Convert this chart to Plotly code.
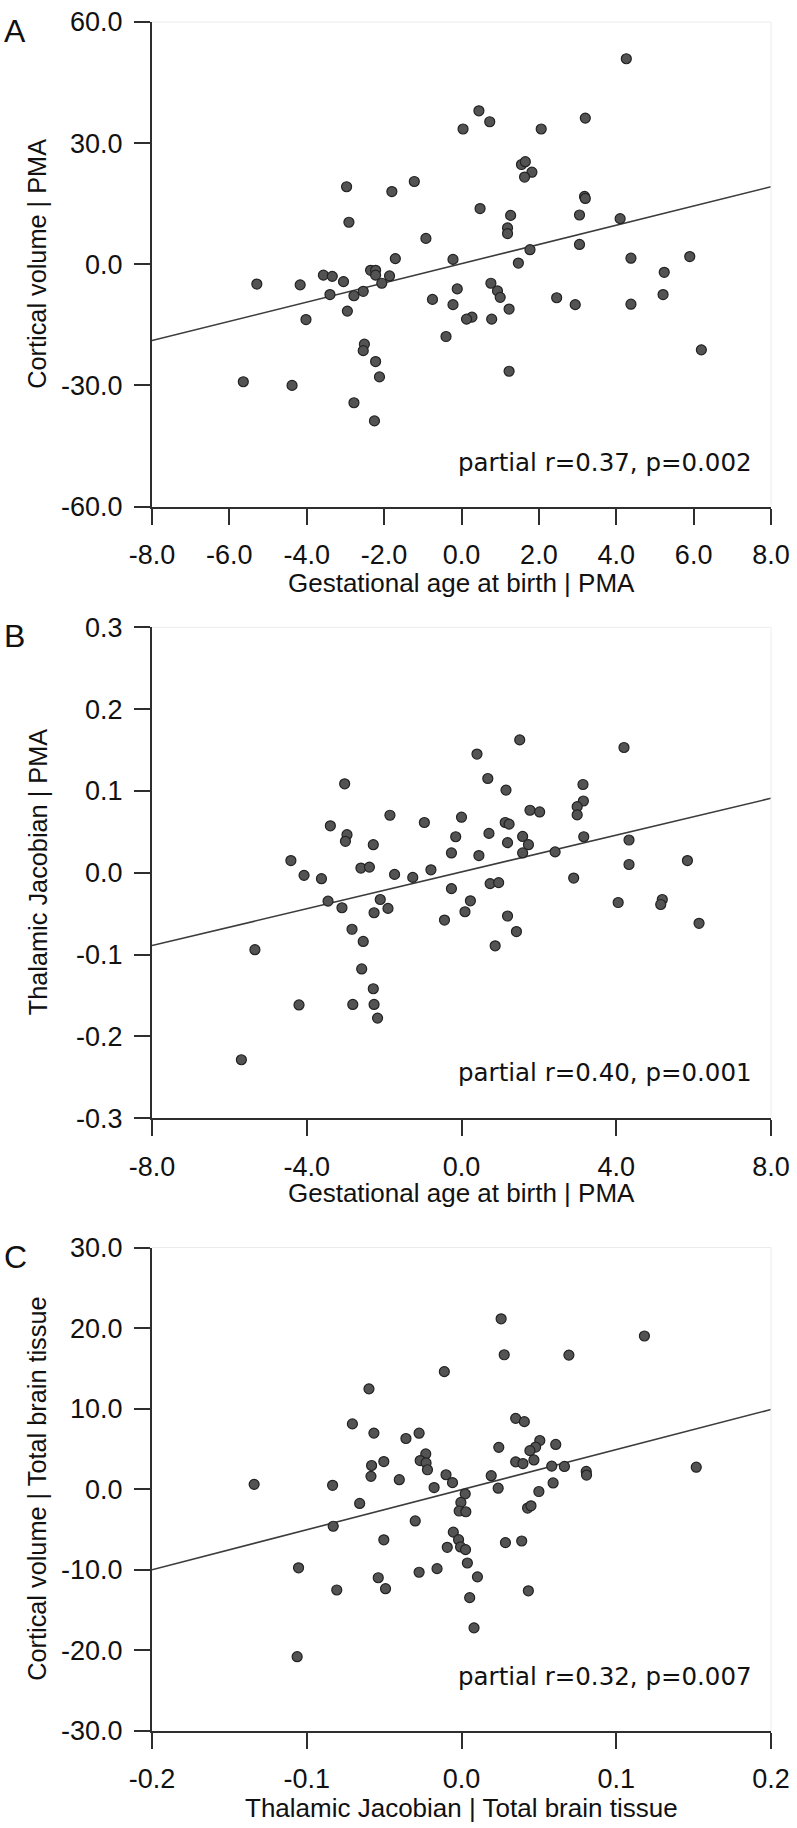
import plotly.graph_objects as go

# ---------------- Panel A: Cortical volume | PMA vs GA at birth | PMA
a_x = [-2.97, -1.80, -2.91, -1.71, -5.29, -4.17, -3.57, -3.34, -3.05, -3.40, -2.78, -2.54,
       -2.35, -2.22, -2.22, -2.06, -1.86, -2.95, -4.02, -2.51, -2.54, -2.22, -2.12, -5.64,
       -4.38, -2.78, -2.25,
       4.26, 0.45, 0.73, 0.04, 2.06, 3.20, 1.55, 1.65, 1.82, 1.63, -1.22, 3.18, 3.20, 0.48,
       1.27, 1.19, 1.19, 3.05, 4.10, 3.05, -0.92, -0.22, 1.77, 1.47, 4.38, 5.90, 5.24, 5.21,
       4.38, 2.94, 2.46, 0.76, 0.93, 1.00, 1.23, -0.11, -0.75, -0.22, 0.27, 0.13, 0.78, -0.40,
       6.20, 1.23]
a_y = [19.2, 18.0, 10.4, 1.4, -4.9, -5.1, -2.7, -3.0, -4.3, -7.5, -7.8, -6.7,
       -1.5, -1.5, -2.7, -4.7, -2.9, -11.6, -13.7, -19.8, -21.4, -24.1, -27.9, -29.1,
       -30.0, -34.3, -38.8,
       50.9, 38.0, 35.3, 33.5, 33.5, 36.2, 24.7, 25.4, 22.8, 21.6, 20.5, 16.8, 16.3, 13.8,
       12.1, 9.0, 7.6, 12.2, 11.3, 4.9, 6.4, 1.2, 3.6, 0.3, 1.5, 1.9, -2.0, -7.5,
       -9.9, -10.0, -8.3, -4.7, -6.6, -8.2, -11.1, -6.1, -8.7, -10.0, -13.1, -13.6, -13.6, -17.9,
       -21.2, -26.5]
a_fit_x = [-8.0, 8.0]
a_fit_y = [-18.9, 19.2]
a_xticks = [-8, -6, -4, -2, 0, 2, 4, 6, 8]
a_xlabels = ["-8.0", "-6.0", "-4.0", "-2.0", "0.0", "2.0", "4.0", "6.0", "8.0"]
a_yticks = [-60, -30, 0, 30, 60]
a_ylabels = ["-60.0", "-30.0", "0.0", "30.0", "60.0"]

# ---------------- Panel B: Thalamic Jacobian | PMA vs GA at birth | PMA
b_x = [-3.02, -1.85, -3.39, -2.96, -3.00, -2.28, -4.41, -4.07, -3.62, -2.60, -2.38, -1.73,
       -3.45, -3.09, -2.10, -2.26, -1.90, -2.83, -2.54, -5.34, -2.58, -2.28, -4.20, -2.81,
       -2.26, -5.69, -2.17,
       1.505, 4.20, 0.40, 0.68, 1.15, 3.14, 3.15, 2.99, 2.99, 1.77, 2.02, -0.96, 0.00, 1.13,
       1.23, -0.15, 0.71, 1.19, 1.58, 1.73, 1.58, 3.16, 2.42, -0.26, 0.45, 4.33, 4.33, 5.84,
       -1.26, -0.79, -0.26, 0.74, 0.96, 2.90, 0.23, 0.09, -0.44, 1.19, 1.42, 0.87, 4.05, 5.19,
       5.15, 6.14]
b_y = [0.1087, 0.0703, 0.0574, 0.0465, 0.0384, 0.0343, 0.0149, -0.0032, -0.0073, 0.0057,
       0.0069, -0.0020, -0.0347, -0.0428, -0.0327, -0.0489, -0.0436, -0.0691, -0.0840,
       -0.0941, -0.1176, -0.1418, -0.1616, -0.1610, -0.1610, -0.2286, -0.1777,
       0.1624, 0.1531, 0.1451, 0.1152, 0.1010, 0.1079, 0.0877, 0.0808, 0.0707, 0.0764, 0.0743,
       0.0614, 0.0679, 0.0614, 0.0594, 0.0440, 0.0481, 0.0368, 0.0444, 0.0343, 0.0242, 0.0440,
       0.0255, 0.0242, 0.0210, 0.0400, 0.0101, 0.0149, -0.0057, 0.0036, -0.0194, -0.0133,
       -0.0121, -0.0065, -0.0343, -0.0477, -0.0578, -0.0529, -0.0719, -0.0893, -0.0364,
       -0.0327, -0.0388, -0.0618]
b_fit_x = [-8.0, 8.0]
b_fit_y = [-0.089, 0.091]
b_xticks = [-8, -4, 0, 4, 8]
b_xlabels = ["-8.0", "-4.0", "0.0", "4.0", "8.0"]
b_yticks = [-0.3, -0.2, -0.1, 0.0, 0.1, 0.2, 0.3]
b_ylabels = ["-0.3", "-0.2", "-0.1", "0.0", "0.1", "0.2", "0.3"]

# ---------------- Panel C: Cortical volume | TBT vs Thalamic Jacobian | TBT
c_x = [-0.0598, -0.0705, -0.0566, -0.0502, -0.0581, -0.0585, -0.1340, -0.0833, -0.0658,
       -0.0829, -0.0502, -0.1053, -0.0806, -0.0538, -0.0491, -0.1062,
       0.0256, 0.1182, 0.0276, 0.0694, -0.0111, 0.0350, 0.0406, -0.0274, -0.0359, 0.0506,
       0.0609, 0.0479, 0.0442, 0.0241, -0.0231, -0.0267, -0.0229, -0.0220, 0.0350, 0.0397,
       0.0468, 0.0583, 0.0665, 0.0806, 0.0808, 0.1517, -0.0402, -0.0100, -0.0058, 0.0192,
       -0.0177, 0.0237, 0.0592, 0.0500, 0.0024, -0.0004, -0.0015, 0.0028, 0.0427, 0.0449,
       -0.0299, -0.0053, -0.0019, -0.0006, 0.0026, -0.0092, 0.0284, 0.0389, 0.0038, -0.0158,
       -0.0274, 0.0103, 0.0053, 0.0432, 0.0081]
c_y = [12.46, 8.11, 6.97, 3.44, 2.95, 1.60, 0.61, 0.49, -1.76, -4.59, -6.27, -9.75, -12.5,
       -10.98, -12.34, -20.78,
       21.15, 19.02, 16.69, 16.65, 14.6, 8.8, 8.39, 6.96, 6.30, 6.05, 5.56, 5.24, 4.79, 5.20,
       4.38, 3.56, 3.27, 2.42, 3.40, 3.19, 3.64, 2.87, 2.83, 2.21, 1.76, 2.74, 1.19, 1.80,
       0.82, 1.68, 0.21, 0.13, 0.78, -0.28, -0.57, -1.63, -2.70, -2.79, -2.33, -2.05, -3.93,
       -5.32, -6.26, -7.16, -7.49, -7.2, -6.62, -6.42, -9.15, -9.85, -10.3, -10.87, -13.45,
       -12.6, -17.2]
c_fit_x = [-0.2, 0.2]
c_fit_y = [-10.0, 9.9]
c_xticks = [-0.2, -0.1, 0.0, 0.1, 0.2]
c_xlabels = ["-0.2", "-0.1", "0.0", "0.1", "0.2"]
c_yticks = [-30, -20, -10, 0, 10, 20, 30]
c_ylabels = ["-30.0", "-20.0", "-10.0", "0.0", "10.0", "20.0", "30.0"]

panels = [
    dict(x=a_x, y=a_y, fx=a_fit_x, fy=a_fit_y, xr=[-8, 8], yr=[-60, 60],
         xtv=a_xticks, xtt=a_xlabels, ytv=a_yticks, ytt=a_ylabels,
         xt="Gestational age at birth | PMA", yt="Cortical volume | PMA",
         stat="partial r=0.37, p=0.002", letter="A", dom=[0.7165, 1.0], sy=44, ty=-76),
    dict(x=b_x, y=b_y, fx=b_fit_x, fy=b_fit_y, xr=[-8, 8], yr=[-0.3, 0.3],
         xtv=b_xticks, xtt=b_xlabels, ytv=b_yticks, ytt=b_ylabels,
         xt="Gestational age at birth | PMA", yt="Thalamic Jacobian | PMA",
         stat="partial r=0.40, p=0.001", letter="B", dom=[0.3586, 0.6458], sy=46, ty=-75),
    dict(x=c_x, y=c_y, fx=c_fit_x, fy=c_fit_y, xr=[-0.2, 0.2], yr=[-30, 30],
         xtv=c_xticks, xtt=c_xlabels, ytv=c_yticks, ytt=c_ylabels,
         xt="Thalamic Jacobian | Total brain tissue", yt="Cortical volume | Total brain tissue",
         stat="partial r=0.32, p=0.007", letter="C", dom=[0.0, 0.2829], sy=55, ty=-77),
]

AX = "#2e2e2e"
TICKFONT = dict(family="Liberation Sans, Arial, sans-serif", size=27, color="#111111")
TITLEFONT = "Liberation Sans, Arial, sans-serif"

fig = go.Figure()
annotations = []
shapes = []
for i, p in enumerate(panels, start=1):
    xa = "x" if i == 1 else f"x{i}"
    ya = "y" if i == 1 else f"y{i}"
    fig.add_trace(go.Scatter(x=p["fx"], y=p["fy"], mode="lines", xaxis=xa, yaxis=ya,
                             line=dict(color="#3c3c3c", width=1.6), showlegend=False,
                             hoverinfo="skip"))
    fig.add_trace(go.Scatter(x=p["x"], y=p["y"], mode="markers", xaxis=xa, yaxis=ya,
                             marker=dict(size=10, color="#535353",
                                         line=dict(color="#222222", width=1.2)),
                             showlegend=False))
    axis_common = dict(showline=True, linecolor=AX, linewidth=2, ticks="outside",
                       ticklen=16, tickwidth=2, tickcolor=AX, showgrid=False,
                       zeroline=False, tickfont=TICKFONT, tickmode="array")
    xkey = "xaxis" if i == 1 else f"xaxis{i}"
    ykey = "yaxis" if i == 1 else f"yaxis{i}"
    fig.update_layout(**{
        xkey: dict(axis_common, range=p["xr"], tickvals=p["xtv"], ticktext=p["xtt"],
                   anchor=ya, domain=[0, 1], ticklabelstandoff=7),
        ykey: dict(axis_common, range=p["yr"], tickvals=p["ytv"], ticktext=p["ytt"],
                   anchor=xa, domain=p["dom"], ticklabelstandoff=6),
    })
    xd = f"{xa} domain"
    yd = f"{ya} domain"
    # faint frame on top and right
    shapes.append(dict(type="line", xref=xd, yref=yd, x0=0, x1=1, y0=1, y1=1,
                       line=dict(color="#ececec", width=1)))
    shapes.append(dict(type="line", xref=xd, yref=yd, x0=1, x1=1, y0=0, y1=1,
                       line=dict(color="#ececec", width=1)))
    # x title
    annotations.append(dict(text=p["xt"], xref=xd, yref=yd, x=0.5, y=0, yshift=p["ty"],
                            xanchor="center", yanchor="middle", showarrow=False,
                            font=dict(family=TITLEFONT, size=26, color="#111111")))
    # y title
    annotations.append(dict(text=p["yt"], xref=xd, yref=yd, x=0, y=0.5, xshift=-114.5,
                            xanchor="center", yanchor="middle", textangle=-90,
                            showarrow=False,
                            font=dict(family=TITLEFONT, size=25.3, color="#111111")))
    # statistic
    annotations.append(dict(text=p["stat"], xref=xd, yref=yd, x=1, y=0, xshift=-17,
                            yshift=p["sy"], xanchor="right", yanchor="middle",
                            showarrow=False,
                            font=dict(family="DejaVu Sans, Verdana, sans-serif", size=24.5,
                                      color="#111111")))
    # panel letter
    annotations.append(dict(text=p["letter"], xref=xd, yref=yd, x=0, y=1, xshift=-150,
                            yshift=-9, xanchor="left", yanchor="middle", showarrow=False,
                            font=dict(family=TITLEFONT, size=32, color="#111111")))

fig.update_layout(width=797, height=1828, autosize=False,
                  margin=dict(l=152, r=19, t=7, b=97, pad=0),
                  paper_bgcolor="white", plot_bgcolor="white",
                  annotations=annotations, shapes=shapes)

fig.write_html("out.html",
               config={"displayModeBar": False},
               post_script="document.body.style.margin='0';"
                           "document.body.style.padding='0';"
                           "document.documentElement.style.overflow='hidden';")
